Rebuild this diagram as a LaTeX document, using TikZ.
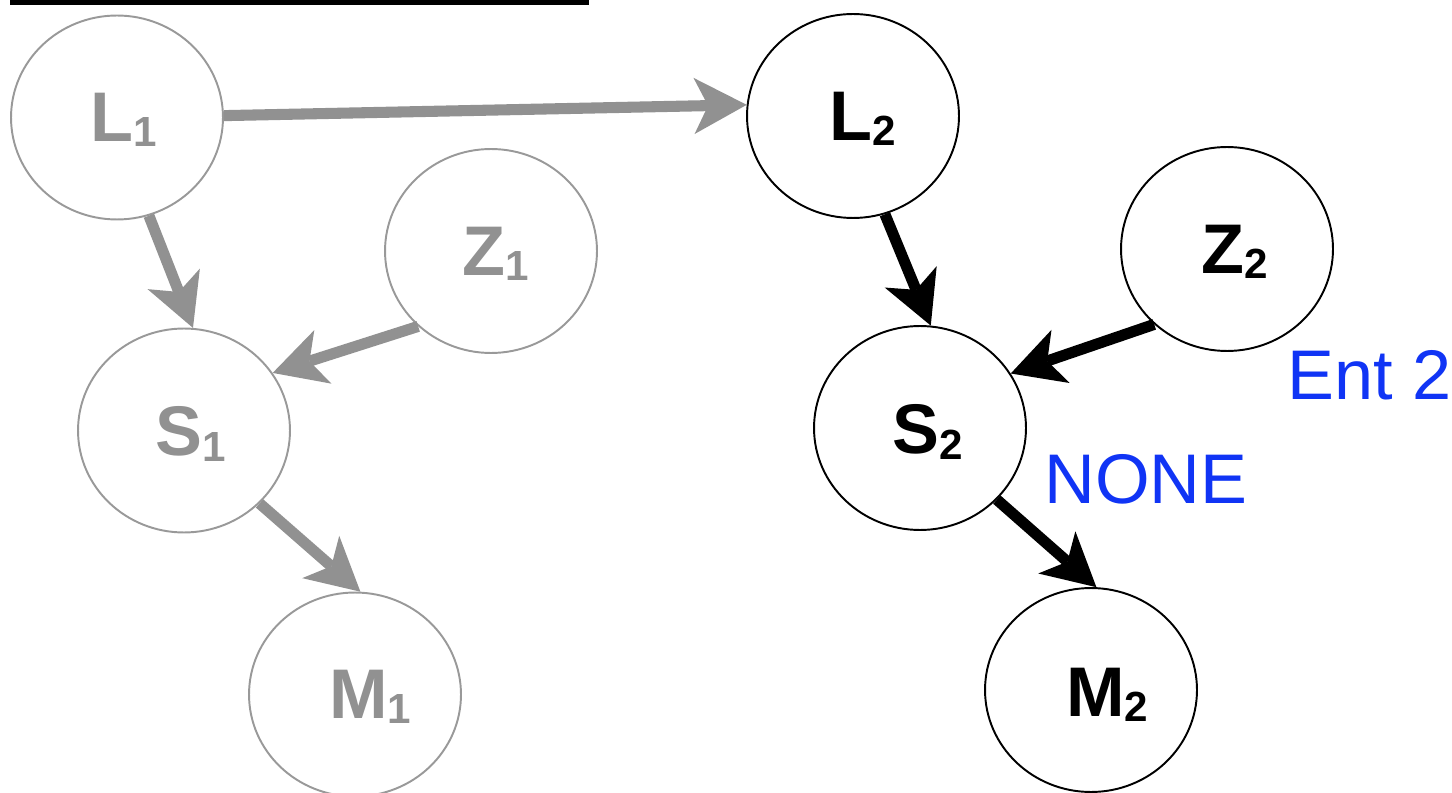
\documentclass[tikz,border=0pt]{standalone}
\usepackage{fontspec}
\setmainfont{Liberation Sans}
\usetikzlibrary{arrows.meta,shapes.geometric}
\definecolor{gr}{HTML}{919191}
\definecolor{grc}{HTML}{999999}
\definecolor{entblue}{RGB}{16,52,245}
\newcommand{\vlbl}[2]{{\fontsize{40}{40}\selectfont\bfseries #1}{\fontsize{24}{24}\selectfont\bfseries\raisebox{-3pt}{#2}}}
\begin{document}
\begin{tikzpicture}[x=0.02cm,y=-0.02cm,
  var/.style={ellipse, line width=1.1pt, minimum width=4.24cm, minimum height=4.08cm, inner sep=0pt},
  gvar/.style={var, draw=grc},
  bvar/.style={var, draw=black},
  gtxt/.style={text=gr, inner sep=0pt},
  btxt/.style={text=black, inner sep=0pt},
  arr/.style={line width=6.3pt, -{Stealth[length=30pt,width=32pt,inset=8pt,line width=0pt]}},
  garr/.style={arr, draw=gr},
  barr/.style={arr, draw=black},
  note/.style={text=entblue, font=\fontsize{40}{40}\selectfont, inner sep=0pt}]
\useasboundingbox (0,0) rectangle (1452,793);
\fill[black] (10,0) rectangle (589,5);
% left (grey) model
\node[gvar] (L1) at (117,117.5) {};
\node[gvar] (Z1) at (491,251) {};
\node[gvar] (S1) at (184,430.5) {};
\node[gvar] (M1) at (355,694.5) {};
\node[gtxt] (L1t) at (124,120) {\vlbl{L}{1}};
\node[gtxt] (Z1t) at (496,254) {\vlbl{Z}{1}};
\node[gtxt] (S1t) at (191,434) {\vlbl{S}{1}};
\node[gtxt] (M1t) at (370,697) {\vlbl{M}{1}};
% right (black) model
\node[bvar] (L2) at (853,116) {};
\node[bvar] (Z2) at (1227,249) {};
\node[bvar] (S2) at (920,428) {};
\node[bvar] (M2) at (1091,690) {};
\node[btxt] (L2t) at (863,119) {\vlbl{L}{2}};
\node[btxt] (Z2t) at (1235,252) {\vlbl{Z}{2}};
\node[btxt] (S2t) at (928,432) {\vlbl{S}{2}};
\node[btxt] (M2t) at (1107,695) {\vlbl{M}{2}};
% notes
\node[note] (ent) at (1370,375.5) {Ent 2};
\node[note] (none) at (1146,479) {NONE};
% connectors
\draw[garr] (L1.1) -- (L2.174);
\draw[garr] (L1.-72) -- (S1.85);
\draw[garr] (Z1.-134) -- (S1.33.6);
\draw[garr] (S1.-44) -- (M1.87);
\draw[barr] (L2.-72) -- (S2.84);
\draw[barr] (Z2.-134) -- (S2.31);
\draw[barr] (S2.-43) -- (M2.87);
\end{tikzpicture}
\end{document}
